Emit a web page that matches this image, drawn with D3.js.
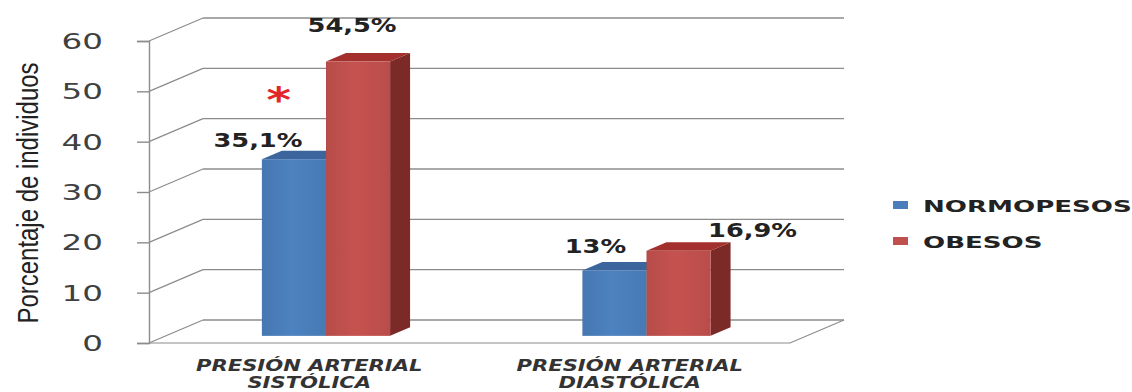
<!DOCTYPE html>
<html lang="es">
<head>
<meta charset="UTF-8">
<title>Presión arterial - normopesos vs obesos</title>
<script src="https://d3js.org/d3.v7.min.js"></script>
<style>
  body { margin: 0; background: #fff; }
  svg { display: block; }
</style>
</head>
<body>
<svg id="chart" width="1132" height="392"></svg>
<script>
// datos
var categorias = ["PRESIÓN ARTERIAL|SISTÓLICA", "PRESIÓN ARTERIAL|DIASTÓLICA"];
var series = ["NORMOPESOS", "OBESOS"];
var normopesos = [35.1, 13];
var obesos = [54.5, 16.9];
var etiquetas = [["35,1%", "13%"], ["54,5%", "16,9%"]];
var yTicks = [0, 10, 20, 30, 40, 50, 60];
var tituloY = "Porcentaje de individuos";

var valores = [normopesos, obesos];

// colores por serie: frente, arriba, lado
var colores = [
  { front: "#4a7ebb", top: "#3b659c", side: "#2f5585" },
  { front: "#c0504d", top: "#a3302d", side: "#7c2a28" }
];

var svg = d3.select("#chart");

// degradado suave en el frente de las barras
var defs = svg.append("defs");
colores.forEach(function (c, i) {
  var gr = defs.append("linearGradient").attr("id", "grad" + i)
    .attr("x1", "0").attr("x2", "1").attr("y1", "0").attr("y2", "0");
  gr.append("stop").attr("offset", "0").attr("stop-color", d3.color(c.front).darker(0.15));
  gr.append("stop").attr("offset", "0.45").attr("stop-color", d3.color(c.front).brighter(0.08));
  gr.append("stop").attr("offset", "1").attr("stop-color", d3.color(c.front).darker(0.1));
});

// caja 3d
var x0 = 149, plotW = 641;
var DX = 54, DY = -23;        // profundidad total
var zBar0 = 0.31, zBar1 = 0.68; // posicion de las barras en profundidad

var y = d3.scaleLinear().domain([0, 60]).range([343, 41]);
var xCat = d3.scaleBand().domain(d3.range(categorias.length))
  .range([0, plotW]).paddingInner(0.6).paddingOuter(0.3);
var xSer = d3.scaleBand().domain(d3.range(series.length))
  .range([0, xCat.bandwidth()]);

function P(xp, v, z) { return [x0 + xp + z * DX, y(v) + z * DY]; }
function pts(a) { return a.map(function (p) { return p.join(","); }).join(" "); }

var grid = "#8c8c8c";

// pared trasera: lineas de grilla
svg.append("g").selectAll("line").data(yTicks).enter().append("line")
  .attr("x1", function (d) { return P(0, d, 1)[0]; })
  .attr("x2", function (d) { return P(plotW, d, 1)[0]; })
  .attr("y1", function (d) { return P(0, d, 1)[1]; })
  .attr("y2", function (d) { return P(0, d, 1)[1]; })
  .attr("stroke", grid).attr("stroke-width", 1.4);

// pared izquierda: diagonales
svg.append("g").selectAll("line").data(yTicks).enter().append("line")
  .attr("x1", function (d) { return P(0, d, 0)[0]; })
  .attr("y1", function (d) { return P(0, d, 0)[1]; })
  .attr("x2", function (d) { return P(0, d, 1)[0]; })
  .attr("y2", function (d) { return P(0, d, 1)[1]; })
  .attr("stroke", grid).attr("stroke-width", 1.2);

// suelo
svg.append("polyline")
  .attr("points", pts([P(0, 0, 0), P(plotW, 0, 0), P(plotW, 0, 1)]))
  .attr("fill", "none").attr("stroke", grid).attr("stroke-width", 1.2);

// eje Y frontal
var yAxis = d3.axisLeft(y).tickValues(yTicks).tickSize(12).tickPadding(34)
  .tickFormat(d3.format("d"));
var gy = svg.append("g").attr("transform", "translate(" + x0 + ",0)").call(yAxis);
gy.select(".domain").attr("stroke", grid).attr("stroke-width", 1.4);
gy.selectAll(".tick line").attr("stroke", grid).attr("stroke-width", 1.4);
gy.selectAll(".tick text")
  .attr("font-family", "DejaVu Sans").attr("font-size", 21).attr("fill", "#404040")
  .attr("text-anchor", "end").attr("dy", "0.36em")
  .each(function () {
    var t = d3.select(this);
    var xx = +t.attr("x");
    t.attr("x", 0).attr("transform", "translate(" + xx + ",0) scale(1.55,1)");
  });

// barras 3d
for (var s = 0; s < series.length; s++) {
  var g = svg.append("g");
  categorias.forEach(function (c, i) {
    var v = valores[s][i];
    var xl = xCat(i) + xSer(s), xr = xl + xSer.bandwidth();
    var col = colores[s];
    // lado derecho
    g.append("polygon")
      .attr("points", pts([P(xr, 0, zBar0), P(xr, 0, zBar1), P(xr, v, zBar1), P(xr, v, zBar0)]))
      .attr("fill", col.side);
    // arriba
    g.append("polygon")
      .attr("points", pts([P(xl, v, zBar0), P(xr, v, zBar0), P(xr, v, zBar1), P(xl, v, zBar1)]))
      .attr("fill", col.top);
    // frente
    var f0 = P(xl, v, zBar0), f1 = P(xr, 0, zBar0);
    g.append("rect")
      .attr("x", f0[0]).attr("y", f0[1])
      .attr("width", f1[0] - f0[0]).attr("height", f1[1] - f0[1])
      .attr("fill", "url(#grad" + s + ")");
  });
}

// etiquetas de valor (movidas a mano como en el original)
var desplaz = [[[-46, -8], [-29, -13]], [[-16, -25], [64, -10]]];
var bold = "DejaVu Sans";
for (var s2 = 0; s2 < series.length; s2++) {
  categorias.forEach(function (c, i) {
    var v = valores[s2][i];
    var xc = xCat(i) + xSer(s2) + xSer.bandwidth() / 2;
    var p = P(xc, v, (zBar0 + zBar1) / 2);
    var d = desplaz[s2][i];
    svg.append("text")
      .attr("transform", "translate(" + (p[0] + d[0]) + "," + (p[1] + d[1]) + ") scale(1.35,1)")
      .attr("text-anchor", "middle")
      .attr("font-family", bold).attr("font-weight", "bold").attr("font-size", 19)
      .attr("fill", "#222")
      .text(etiquetas[s2][i]);
  });
}

// asterisco de significacion
var pa = P(xCat(0) + xSer.bandwidth() * 0.4, 50, 0);
svg.append("text")
  .attr("transform", "translate(" + (pa[0] + 8) + "," + (pa[1] + 21) + ") scale(1.3,1)")
  .attr("text-anchor", "middle")
  .attr("font-family", "DejaVu Sans").attr("font-weight", "bold").attr("font-size", 36)
  .attr("fill", "#e3262a")
  .text("*");

// etiquetas de categoria
categorias.forEach(function (c, i) {
  var lineas = c.split("|");
  var xc = x0 + xCat(i) + xCat.bandwidth() / 2;
  lineas.forEach(function (l, k) {
    svg.append("text")
      .attr("transform", "translate(" + xc + "," + (371 + k * 17) + ") scale(1.28,1)")
      .attr("text-anchor", "middle")
      .attr("font-family", bold).attr("font-weight", "bold").attr("font-style", "italic")
      .attr("font-size", 16.5).attr("fill", "#333")
      .text(l);
  });
});

// titulo eje Y
svg.append("text")
  .attr("transform", "translate(38,193) rotate(-90)")
  .attr("text-anchor", "middle")
  .attr("font-family", "Liberation Sans Narrow, Liberation Sans, sans-serif")
  .attr("font-size", 29).attr("fill", "#222")
  .attr("textLength", 261).attr("lengthAdjust", "spacingAndGlyphs")
  .text(tituloY);

// leyenda
var leg = svg.append("g").attr("transform", "translate(893,201)");
series.forEach(function (n, i) {
  var r = leg.append("g").attr("transform", "translate(0," + (i * 36) + ")");
  r.append("rect").attr("x", 0).attr("y", 0).attr("width", 15).attr("height", 8)
    .attr("fill", colores[i].front);
  r.append("text")
    .attr("transform", "translate(30,11) scale(1.63,1)")
    .attr("font-family", bold).attr("font-weight", "bold").attr("font-size", 16)
    .attr("fill", "#222")
    .text(n);
});
</script>
</body>
</html>
